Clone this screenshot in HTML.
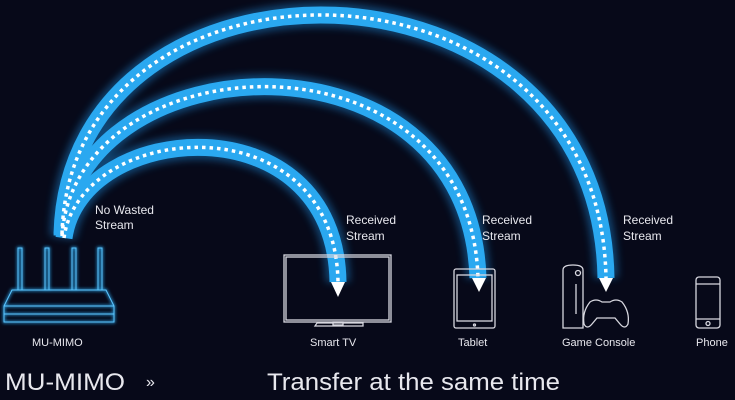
<!DOCTYPE html>
<html><head><style>
html,body{margin:0;padding:0;background:#070919;}
svg{display:block}
text{font-family:"Liberation Sans",sans-serif;fill:#e8e8ee}
</style></head><body>
<svg width="735" height="400" viewBox="0 0 735 400" xmlns="http://www.w3.org/2000/svg">
<defs>
<filter id="g" x="-20%" y="-20%" width="140%" height="140%"><feGaussianBlur stdDeviation="4"/></filter>
<filter id="g2" x="-20%" y="-20%" width="140%" height="140%"><feGaussianBlur stdDeviation="1.5"/></filter>
</defs>
<rect width="735" height="400" fill="#070919"/>
<g fill="none" stroke-linecap="butt">
<g stroke="#1e8fe0" stroke-width="24" opacity="0.45" filter="url(#g)">
<path d="M62,234 C70,-65 600,-65 606,278"/>
<path d="M62,236 C75,40 470,20 478,278"/>
<path d="M64,238 C80,120 335,100 338,282"/>
</g>
<g stroke="#2aa8f0" stroke-width="17">
<path d="M62,234 C70,-65 600,-65 606,278"/>
<path d="M62,236 C75,40 470,20 478,278"/>
<path d="M64,238 C80,120 335,100 338,282"/>
</g>
<g stroke="#ffffff" stroke-width="3.5" stroke-dasharray="3.5 4">
<path d="M62,234 C70,-65 600,-65 606,278"/>
<path d="M62,236 C75,40 470,20 478,278"/>
<path d="M64,238 C80,120 335,100 338,282"/>
</g>
</g>
<g fill="#fff">
<polygon points="331,282 345,282 338,297"/>
<polygon points="472,278 486,278 479,292"/>
<polygon points="599,278 613,278 606,292"/>
</g>
<g stroke="#2aa8f0" stroke-width="2" fill="none" filter="url(#g2)">
<path d="M18,290 V248 h4 V290 M45,290 V248 h4 V290 M72,290 V248 h4 V290 M98,290 V248 h4 V290"/>
<path d="M12,290 H106 L114,306 V322 H4 V306 Z M4,306 H114 M4,314 H114"/>
</g>
<g stroke="#5cc6ff" stroke-width="1" fill="none">
<path d="M18,290 V248 h4 V290 M45,290 V248 h4 V290 M72,290 V248 h4 V290 M98,290 V248 h4 V290"/>
<path d="M12,290 H106 L114,306 V322 H4 V306 Z M4,306 H114 M4,314 H114"/>
</g>
<g stroke="#d8d8e0" stroke-width="1.3" fill="none">
<rect x="284" y="255" width="107" height="67"/>
<rect x="286" y="257" width="103" height="63"/>
<path d="M315,326 h48 v-3 h-46 z"/>
<rect x="333" y="322" width="10" height="3"/>
<rect x="454" y="269" width="41" height="59" rx="2"/>
<rect x="457" y="275" width="35" height="46"/>
<circle cx="474.5" cy="325" r="1"/>
<path d="M563,328 V270 q0,-5 10,-5 q10,0 10,5 V328 Z"/>
<circle cx="578" cy="273" r="2.5"/>
<path d="M576,284 V314"/>
<path d="M590,302 q6,-4 12,0 h8 q6,-4 12,0 q8,10 6,22 q-3,6 -8,0 l-5,-6 h-18 l-5,6 q-5,6 -8,0 q-2,-12 6,-22 z"/>
<rect x="696" y="277" width="24" height="51" rx="3"/>
<path d="M696,284 h24 M696,319 h24"/>
<circle cx="708" cy="323.5" r="2"/>
</g>
<g font-size="12">
<text x="95" y="214">No Wasted</text>
<text x="95" y="229">Stream</text>
<text x="346" y="224">Received</text>
<text x="346" y="240">Stream</text>
<text x="482" y="224">Received</text>
<text x="482" y="240">Stream</text>
<text x="623" y="224">Received</text>
<text x="623" y="240">Stream</text>
</g>
<g font-size="11">
<text x="32" y="346">MU-MIMO</text>
<text x="310" y="346">Smart TV</text>
<text x="458" y="346">Tablet</text>
<text x="562" y="346">Game Console</text>
<text x="696" y="346">Phone</text>
</g>
<text x="5" y="390" font-size="24" fill="#e0e0e8" textLength="120" lengthAdjust="spacingAndGlyphs">MU-MIMO</text>
<text x="146" y="387" font-size="16" fill="#bbb">»</text>
<text x="267" y="390" font-size="24" fill="#e0e0e8" textLength="293" lengthAdjust="spacingAndGlyphs">Transfer at the same time</text>
</svg>
</body></html>
